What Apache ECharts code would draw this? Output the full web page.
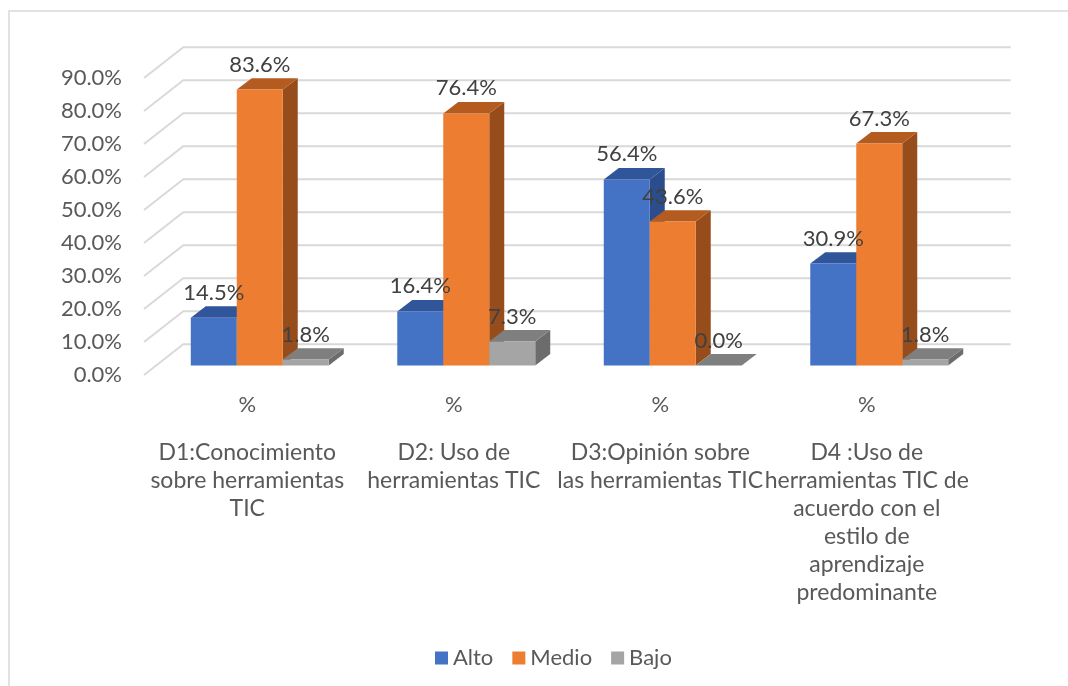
<!DOCTYPE html>
<html>
<head>
<meta charset="utf-8">
<script src="https://cdn.jsdelivr.net/npm/echarts@6/dist/echarts.min.js"></script>
<style>html,body{margin:0;padding:0;background:#fff}#c{width:1068px;height:686px}</style>
</head>
<body>
<div id="c"></div>
<script>
const categories = [
  'D1:Conocimiento\nsobre herramientas\nTIC',
  'D2: Uso de\nherramientas TIC',
  'D3:Opinión sobre\nlas herramientas TIC',
  'D4 :Uso de\nherramientas TIC de\nacuerdo con el\nestilo de\naprendizaje\npredominante'
];
const innerLabels = ['%', '%', '%', '%'];
const seriesNames = ['Alto', 'Medio', 'Bajo'];
const alto = [14.5, 16.4, 56.4, 30.9];
const medio = [83.6, 76.4, 43.6, 67.3];
const bajo = [1.8, 7.3, 0.0, 1.8];
const gridTicks = [0, 10, 20, 30, 40, 50, 60, 70, 80, 90];

const FONT = 'Lato';
const palette = [
  {front: '#4472C4', top: '#30559A', side: '#2B4D8B'},
  {front: '#ED7D31', top: '#B45B20', side: '#974D1B'},
  {front: '#A5A5A5', top: '#7F7F7F', side: '#6C6C6C'}
];
const BAR_FRAC = 0.2227;
const DX = 15, DY = -11.4;       // bar depth
const WX = 39.3, WY = -30.7;     // back wall depth

function barRender(si) {
  return function (params, api) {
    const cat = api.value(0), v = api.value(1);
    const base = api.coord([cat, 0]);
    const top = api.coord([cat, v]);
    const band = api.size([1, 0])[0];
    const bw = band * BAR_FRAC;
    const x0 = base[0] - 1.5 * bw + si * bw, x1 = x0 + bw;
    const yb = base[1], yt = top[1];
    const c = palette[si];
    return {
      type: 'group',
      children: [
        {type: 'polygon', z2: si * 10 + 1, shape: {points: [[x1, yt], [x1 + DX, yt + DY], [x1 + DX, yb + DY], [x1, yb]]}, style: {fill: c.side}},
        {type: 'polygon', z2: si * 10 + 2, shape: {points: [[x0, yt], [x1, yt], [x1 + DX, yt + DY], [x0 + DX, yt + DY]]}, style: {fill: c.top}},
        {type: 'rect', z2: si * 10 + 3, shape: {x: x0, y: yt, width: bw, height: Math.max(yb - yt, 0)}, style: {fill: c.front}},
        {type: 'text', z2: 1000, style: {text: v.toFixed(1) + '%', x: (x0 + x1) / 2, y: yt - 25, align: 'center', verticalAlign: 'middle', fill: '#404040', font: '22px ' + FONT}}
      ]
    };
  };
}

function wallRender(params, api) {
  const t = api.value(1);
  const p0 = api.coord([0, t]);
  const p1 = api.coord([categories.length - 1, t]);
  const band = api.size([1, 0])[0];
  const left = p0[0] - band / 2, right = p1[0] + band / 2, y = p0[1];
  return {
    type: 'polyline',
    shape: {points: [[left, y], [left + WX, y + WY], [right + WX + 1.5, y + WY]]},
    style: {stroke: '#D9D9D9', lineWidth: 2, fill: null}
  };
}

const chart = echarts.init(document.getElementById('c'));
const valueSets = [alto, medio, bajo];
const option = {
  animation: false,
  graphic: [{type: 'rect', shape: {x: 9, y: 11, width: 1200, height: 800}, style: {fill: null, stroke: '#D9D9D9', lineWidth: 1.5}, z: 0}],
  grid: [
    {left: 144, top: 78, width: 826, height: 297},
    {left: 156.5, top: 68.5, width: 826, height: 297}
  ],
  xAxis: [
    {type: 'category', gridIndex: 0, data: innerLabels, axisLine: {show: false}, axisTick: {show: false},
     axisLabel: {interval: 0, margin: 16, lineHeight: 28, color: '#595959', fontFamily: FONT, fontSize: 22}},
    {type: 'category', gridIndex: 0, position: 'bottom', offset: 48, data: categories, axisLine: {show: false}, axisTick: {show: false},
     axisLabel: {interval: 0, margin: 16, lineHeight: 28, color: '#595959', fontFamily: FONT, fontSize: 23}},
    {type: 'category', gridIndex: 1, data: categories, show: false}
  ],
  yAxis: [
    {type: 'value', gridIndex: 0, min: 0, max: 90, interval: 10, splitLine: {show: false}, axisLine: {show: false}, axisTick: {show: false},
     axisLabel: {margin: 22, color: '#595959', fontFamily: FONT, fontSize: 22, formatter: v => v.toFixed(1) + '%'}},
    {type: 'value', gridIndex: 1, min: 0, max: 90, interval: 10, show: false}
  ],
  legend: {
    data: seriesNames, left: 430, top: 642, icon: 'rect', itemWidth: 13, itemHeight: 13, itemGap: 19,
    textStyle: {color: '#595959', fontFamily: FONT, fontSize: 22}
  },
  series: [
    {type: 'custom', name: 'wall', xAxisIndex: 0, yAxisIndex: 0, z: 1, silent: true,
     data: gridTicks.map(t => [0, t]), renderItem: wallRender}
  ].concat(seriesNames.map((n, si) => ({
    type: 'custom', name: n, xAxisIndex: 2, yAxisIndex: 1, z: 2,
    itemStyle: {color: palette[si].front},
    data: valueSets[si].map((v, i) => [i, v]),
    renderItem: barRender(si)
  })))
};
chart.setOption(option);
</script>
</body>
</html>
